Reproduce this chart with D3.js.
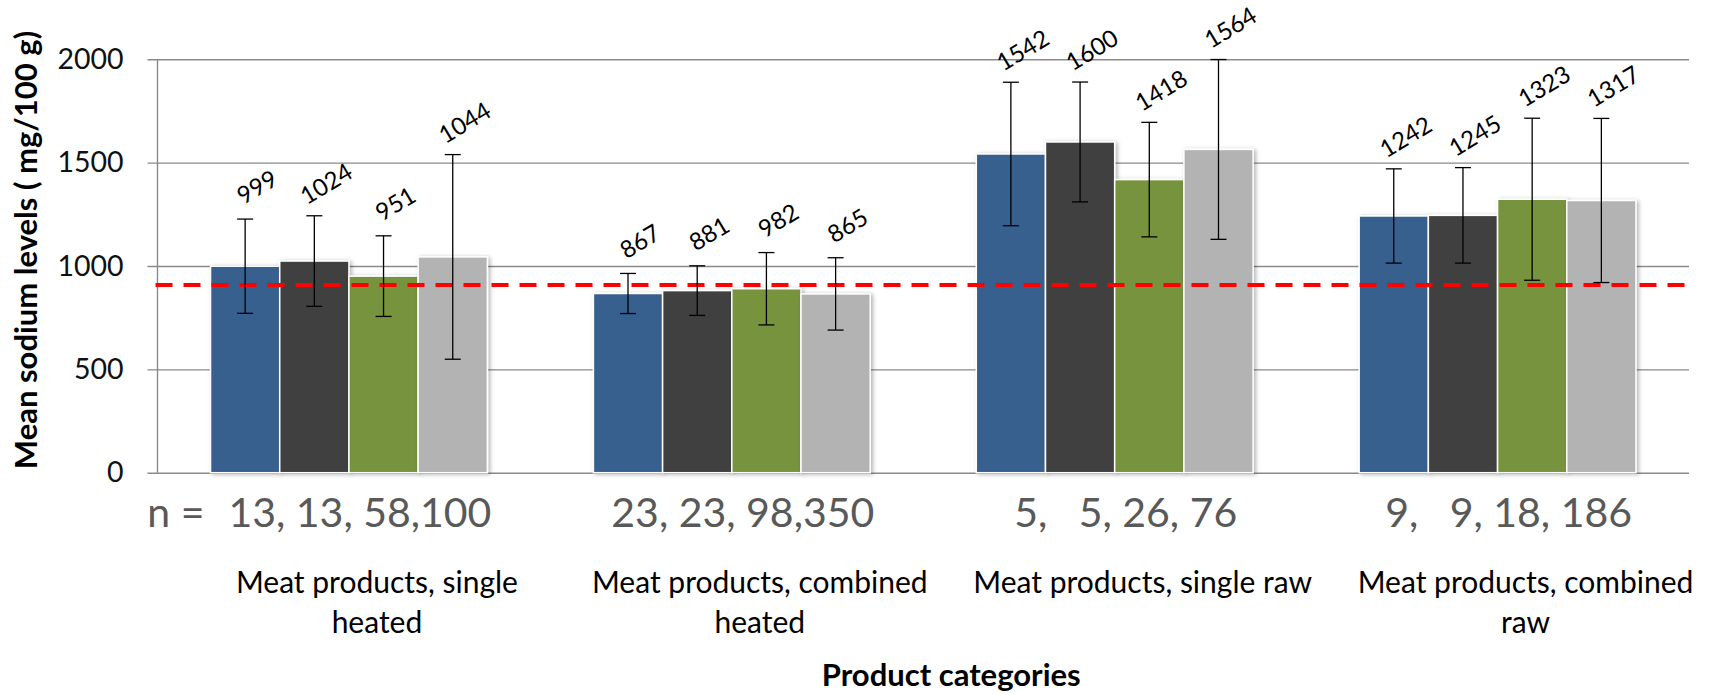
<!DOCTYPE html>
<html>
<head>
<meta charset="utf-8">
<script src="https://cdn.jsdelivr.net/npm/d3@7"></script>
<style>
  body { margin: 0; background: #fff; }
  text { font-family: Lato, "Open Sans", sans-serif; }
</style>
</head>
<body>
<div id="chart"></div>
<script>
// product groups shown along the x axis
const categories = [
    "Meat products, single heated",
    "Meat products, combined heated",
    "Meat products, single raw",
    "Meat products, combined raw"
];

// sample sizes printed under each group
const sampleSizes = ["13, 13, 58,100", "23, 23, 98,350", "5,   5, 26, 76", "9,   9, 18, 186"];

// four bars per group
const seriesKeys = ["s1", "s2", "s3", "s4"];
const seriesColors = ["#38618f", "#404040", "#77933c", "#b3b3b3"];

// mean sodium (bar heights), one row per category
const means = [
    [999, 1024, 951, 1044],
    [867, 881, 890, 865],
    [1542, 1600, 1418, 1564],
    [1242, 1245, 1323, 1317]
];

// value labels as printed on the chart
const meanLabels = [
    ["999", "1024", "951", "1044"],
    ["867", "881", "982", "865"],
    ["1542", "1600", "1418", "1564"],
    ["1242", "1245", "1323", "1317"]
];

// standard deviations (error bars)
const sds = [
    [228, 219, 195, 495],
    [97, 120, 175, 175],
    [347, 290, 277, 435],
    [228, 231, 392, 397]
];

const referenceValue = 908;
const yTicks = [0, 500, 1000, 1500, 2000];

const width = 1721;
const height = 694;
const marginTop = 59.3;
const marginRight = 32;
const marginBottom = 221.3;
const marginLeft = 157.5;

const svg = d3.select("#chart").append("svg")
    .attr("width", width)
    .attr("height", height)
    .attr("viewBox", [0, 0, width, height]);

// soft shadow like the office bars
const defs = svg.append("defs");
const shadow = defs.append("filter")
    .attr("id", "shadow")
    .attr("x", "-10%").attr("y", "-10%")
    .attr("width", "130%").attr("height", "130%");
shadow.append("feDropShadow")
    .attr("dx", 2).attr("dy", 1)
    .attr("stdDeviation", 2)
    .attr("flood-color", "#000")
    .attr("flood-opacity", 0.3);

// scales
const x0 = d3.scaleBand()
    .domain(categories)
    .range([marginLeft, width - marginRight])
    .paddingInner(0.277)
    .paddingOuter(0.1385);

const x1 = d3.scaleBand()
    .domain(seriesKeys)
    .range([0, x0.bandwidth()]);

const y = d3.scaleLinear()
    .domain([0, 2000])
    .range([height - marginBottom, marginTop]);

// grid lines + y tick labels
const gridLeft = marginLeft - 10;
svg.append("g")
    .attr("transform", `translate(${gridLeft},0)`)
    .call(d3.axisLeft(y)
        .tickValues(yTicks)
        .tickSize(-(width - marginRight - gridLeft))
        .tickPadding(24)
        .tickFormat(d3.format("d")))
    .call(g => g.select(".domain").remove())
    .call(g => g.selectAll(".tick line")
        .attr("stroke", "#8a8a8a")
        .attr("stroke-width", 1.4))
    .call(g => g.selectAll(".tick text")
        .attr("fill", "#111")
        .style("font-size", "28.5px"));

// y axis line
svg.append("line")
    .attr("x1", marginLeft).attr("x2", marginLeft)
    .attr("y1", y(2000)).attr("y2", y(0))
    .attr("stroke", "#8a8a8a")
    .attr("stroke-width", 1.4);

// flatten to one record per bar
const bars = [];
categories.forEach((c, i) => {
    seriesKeys.forEach((k, j) => {
        bars.push({
            category: c,
            key: k,
            color: seriesColors[j],
            mean: means[i][j],
            sd: sds[i][j],
            label: meanLabels[i][j]
        });
    });
});

const cx = d => x0(d.category) + x1(d.key) + x1.bandwidth() / 2;

// bars
svg.append("g")
    .selectAll("rect")
    .data(bars)
    .join("rect")
    .attr("x", d => x0(d.category) + x1(d.key))
    .attr("y", d => y(d.mean))
    .attr("width", x1.bandwidth())
    .attr("height", d => y(0) - y(d.mean))
    .attr("fill", d => d.color)
    .attr("stroke", "#fff")
    .attr("stroke-width", 1.5)
    .attr("filter", "url(#shadow)");

// red reference line
svg.append("line")
    .attr("x1", marginLeft - 2).attr("x2", width - marginRight - 3)
    .attr("y1", y(referenceValue)).attr("y2", y(referenceValue))
    .attr("stroke", "#ff0000")
    .attr("stroke-width", 4)
    .attr("stroke-dasharray", "17,11");

// error bars
const capHalf = 8;
const err = svg.append("g")
    .attr("stroke", "#000")
    .attr("stroke-width", 1.3)
    .selectAll("g")
    .data(bars)
    .join("g");

err.append("line")
    .attr("x1", cx).attr("x2", cx)
    .attr("y1", d => y(d.mean + d.sd))
    .attr("y2", d => y(d.mean - d.sd));

err.append("line")
    .attr("x1", d => cx(d) - capHalf).attr("x2", d => cx(d) + capHalf)
    .attr("y1", d => y(d.mean + d.sd)).attr("y2", d => y(d.mean + d.sd));

err.append("line")
    .attr("x1", d => cx(d) - capHalf).attr("x2", d => cx(d) + capHalf)
    .attr("y1", d => y(d.mean - d.sd)).attr("y2", d => y(d.mean - d.sd));

// rotated value labels above the error bars
svg.append("g")
    .selectAll("text")
    .data(bars)
    .join("text")
    .attr("transform", d => `translate(${cx(d) + 12},${y(d.mean + d.sd) - 32}) rotate(-31)`)
    .attr("text-anchor", "middle")
    .attr("dy", "0.35em")
    .style("font-size", "24px")
    .attr("fill", "#000")
    .text(d => d.label);

// sample sizes
const nLabels = svg.append("g")
    .selectAll("text")
    .data(categories)
    .join("text")
    .attr("x", d => x0(d) + x0.bandwidth() / 2 + 11)
    .attr("y", 527)
    .attr("text-anchor", "middle")
    .attr("fill", "#595959")
    .style("font-size", "41px")
    .style("white-space", "pre")
    .text((d, i) => sampleSizes[i]);

const firstBox = nLabels.nodes()[0].getBBox();
svg.append("text")
    .attr("x", firstBox.x - 24)
    .attr("y", 527)
    .attr("text-anchor", "end")
    .attr("fill", "#595959")
    .style("font-size", "41px")
    .text("n =");

// category names, wrapped like the office axis
function wrap(text, maxWidth) {
    text.each(function () {
        const t = d3.select(this);
        const words = t.text().split(" ");
        const xPos = t.attr("x");
        let line = [];
        let lineNo = 0;
        let tspan = t.text(null).append("tspan").attr("x", xPos).attr("dy", 0);
        words.forEach(w => {
            line.push(w);
            tspan.text(line.join(" "));
            if (tspan.node().getComputedTextLength() > maxWidth && line.length > 1) {
                line.pop();
                tspan.text(line.join(" "));
                line = [w];
                lineNo++;
                tspan = t.append("tspan").attr("x", xPos).attr("dy", "40px").text(w);
            }
        });
    });
}

svg.append("g")
    .selectAll("text")
    .data(categories)
    .join("text")
    .attr("x", d => x0(d) + x0.bandwidth() / 2 + 28)
    .attr("y", 593)
    .attr("text-anchor", "middle")
    .attr("fill", "#000")
    .style("font-size", "30px")
    .text(d => d)
    .call(wrap, x0.step() * 0.95);

// axis titles
svg.append("text")
    .attr("x", (marginLeft + width - marginRight) / 2 + 28)
    .attr("y", 686)
    .attr("text-anchor", "middle")
    .style("font-size", "31px")
    .style("font-weight", "bold")
    .text("Product categories");

svg.append("text")
    .attr("transform", "translate(37,250) rotate(-90)")
    .attr("text-anchor", "middle")
    .style("font-size", "31px")
    .style("font-weight", "bold")
    .text("Mean sodium levels ( mg/100 g)");
</script>
</body>
</html>
